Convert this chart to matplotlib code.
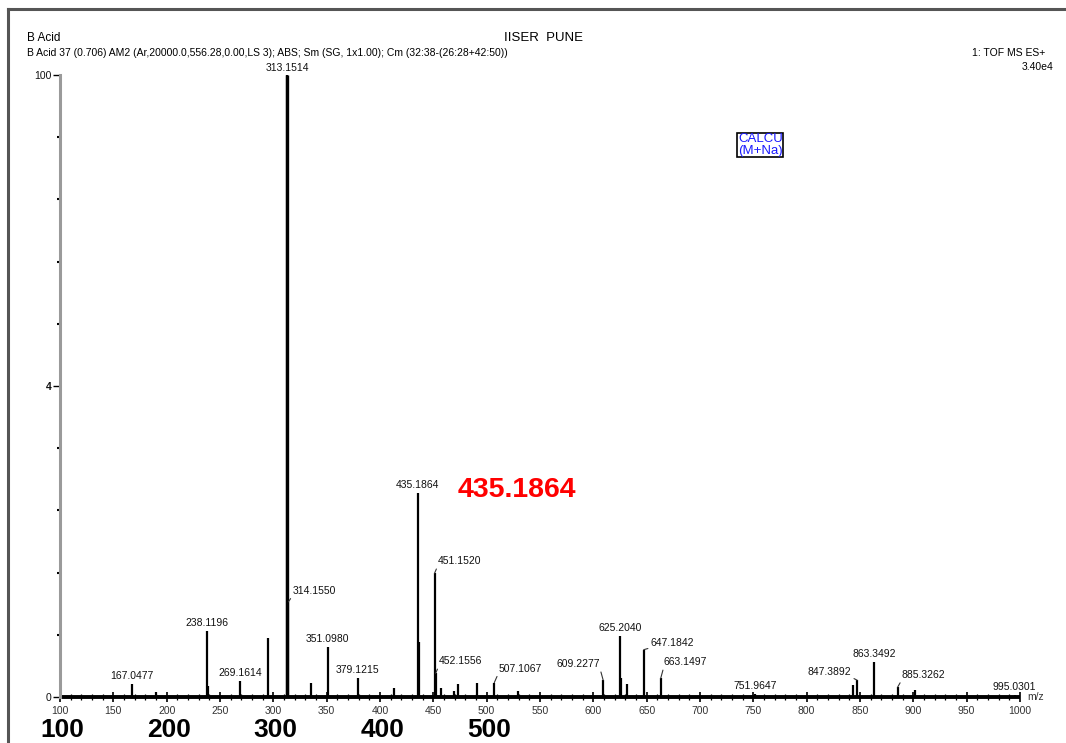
import numpy as np
import matplotlib.pyplot as plt
import matplotlib.ticker as ticker
import matplotlib.transforms as mtransforms
from matplotlib.lines import Line2D

plt.rcParams['font.family'] = ['Liberation Sans', 'DejaVu Sans']

#%% peak list : m/z and relative intensity (%)
peak_mz = [167.0477, 190.1, 238.1196, 239.12, 269.1614, 295.1, 313.1514, 314.1550,
           335.2, 351.0980, 379.1215, 413.2, 435.1864, 436.19, 451.1520, 452.1556,
           457.5, 469.5, 473.4, 491.0, 507.1067, 529.0, 609.2277, 625.2040, 626.2,
           631.5, 647.1842, 663.1497, 751.9647, 843.0, 847.3892, 863.3492, 885.3262,
           902.0, 995.0301]
peak_int = [2.1, 0.8, 10.6, 1.8, 2.6, 9.5, 100.0, 15.3,
            2.3, 8.0, 3.1, 1.5, 32.8, 8.8, 19.9, 3.8,
            1.5, 1.0, 2.1, 2.3, 2.3, 1.0, 2.7, 9.8, 3.0,
            2.1, 7.6, 3.0, 0.5, 2.0, 2.7, 5.6, 1.6,
            1.1, 0.4]

# labelled peaks
label_mz = [167.0477, 238.1196, 269.1614, 313.1514, 314.1550, 351.0980, 379.1215,
            435.1864, 451.1520, 452.1556, 507.1067, 609.2277, 625.2040, 647.1842,
            663.1497, 751.9647, 847.3892, 863.3492, 885.3262, 995.0301]
calc_mz = 435.1864
big_ticks = [100, 200, 300, 400, 500]

# text offsets (pixels) and alignment for each label, default centred on the peak
label_pos = {313.1514: (0, 2, 'center'), 314.1550: (4, 6, 'left'),
             451.1520: (3, 7, 'left'), 452.1556: (3, 7, 'left'),
             507.1067: (4, 9, 'left'), 609.2277: (-3, 11, 'right'),
             647.1842: (7, 2, 'left'), 663.1497: (3, 11, 'left'),
             847.3892: (-6, 3, 'right'), 885.3262: (4, 7, 'left')}

height = dict(zip(peak_mz, peak_int))

W, H = 1066, 743
fx = lambda px: px / W
fy = lambda py: 1 - py / H

fig = plt.figure(figsize=(W / 100, H / 100), dpi=100)
fig.patch.set_facecolor('white')

# outer frame
fig.add_artist(Line2D([fx(8), fx(8)], [fy(9), 0], color='#555555', lw=2.2))
fig.add_artist(Line2D([fx(8), 1], [fy(9), fy(9)], color='#555555', lw=2.2))

ax = fig.add_axes([fx(60), fy(697), (1020 - 60) / W, (697 - 75) / H])
ax.set_xlim(100, 1000)
ax.set_ylim(0, 100)

# spectrum
ax.vlines(peak_mz, 0, peak_int, color='black', lw=1.6)
ax.vlines([313.1514], 0, [100], color='black', lw=2.4)
ax.plot([100, 1000], [0, 0], color='black', lw=2.8, clip_on=False, solid_capstyle='butt')

for m in label_mz:
    h = height[m]
    dx, dy, ha = label_pos.get(m, (0, 3, 'center'))
    kw = dict(textcoords='offset pixels', ha=ha, va='bottom', fontsize=7.5, color='#111111')
    if ha == 'center':
        ax.annotate(f'{m:.4f}', (m, h), xytext=(dx, dy), **kw)
    else:
        ax.annotate(f'{m:.4f}', (m, h), xytext=(dx, dy),
                    arrowprops=dict(arrowstyle='-', lw=0.8, color='#333333',
                                    shrinkA=0, shrinkB=0,
                                    relpos=(0, 0) if ha == 'left' else (1, 0)), **kw)

# axes styling
for s in ['top', 'right', 'bottom']:
    ax.spines[s].set_visible(False)
ax.spines['left'].set_color('#9a9a9a')
ax.spines['left'].set_linewidth(2.2)

ax.xaxis.set_major_locator(ticker.MultipleLocator(50))
ax.xaxis.set_minor_locator(ticker.MultipleLocator(10))
ax.tick_params(axis='x', which='major', direction='inout', length=7, width=1.2,
               labelsize=7.5, labelcolor='#333333', pad=3)
ax.tick_params(axis='x', which='minor', direction='inout', length=4, width=0.9)

ax.set_yticks([0, 50, 100])
ax.set_yticklabels(['0', '4', '100'])
ax.yaxis.set_minor_locator(ticker.MultipleLocator(10))
ax.tick_params(axis='y', which='major', direction='out', length=5, width=1,
               labelsize=7.5, labelcolor='#111111', pad=1)
ax.tick_params(axis='y', which='minor', direction='out', length=2, width=1.5)
ax.get_yticklabels()[1].set_fontweight('bold')

ax.text(1007, 0, 'm/z', fontsize=7.5, color='#333333', ha='left', va='center')

# header
fig.text(fx(27), fy(38), 'B Acid', fontsize=8.5, va='center')
fig.text(fx(544), fy(38), 'IISER  PUNE', fontsize=9.5, va='center', ha='center')
fig.text(fx(27), fy(53),
         'B Acid 37 (0.706) AM2 (Ar,20000.0,556.28,0.00,LS 3); ABS; Sm (SG, 1x1.00); '
         'Cm (32:38-(26:28+42:50))', fontsize=7.5, va='center')
fig.text(fx(1045), fy(53), '1: TOF MS ES+', fontsize=7.5, va='center', ha='right')
fig.text(fx(1053), fy(67), '3.40e4', fontsize=7.5, va='center', ha='right')

fig.text(fx(738), fy(145), 'CALCU\n(M+Na)', fontsize=9.5, color='#1a1aff',
         va='center', ha='left', linespacing=0.95,
         bbox=dict(boxstyle='square,pad=0.05', fc='white', ec='black', lw=1.2))

# calculated mass
fig.text(fx(458), fy(497), f'{calc_mz:.4f}', fontsize=20.5, fontweight='bold',
         color='#ff0000', va='baseline', ha='left')

# large axis numbers along the bottom
trans = mtransforms.blended_transform_factory(ax.transData, fig.transFigure)
for v in big_ticks:
    fig.text(v + 2, 1 / H, str(v), transform=trans, fontsize=19,
             fontweight='bold', ha='center', va='bottom')

fig.savefig('out.png', dpi=100)
